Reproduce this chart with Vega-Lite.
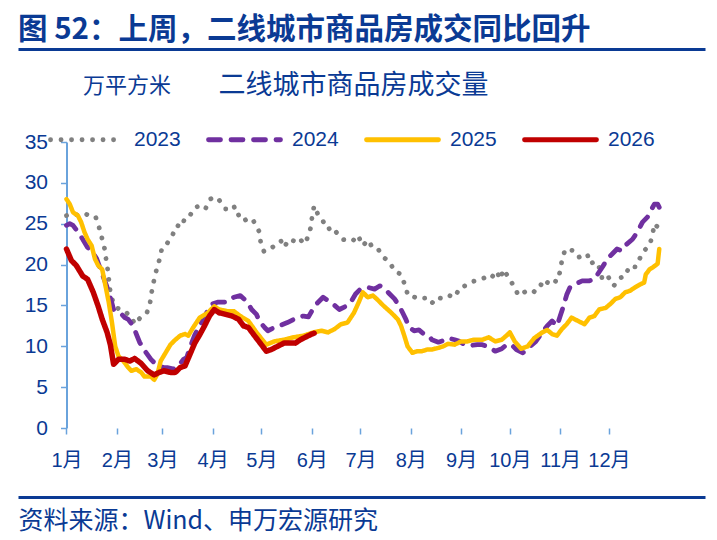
{
  "$schema": "https://vega.github.io/schema/vega-lite/v6.json",
  "width": 687,
  "height": 286,
  "autosize": {"type": "none"},
  "padding": {"left": 18, "top": 142, "right": 12, "bottom": 112},
  "background": "white",
  "title": {
    "text": "图 52：上周，二线城市商品房成交同比回升",
    "anchor": "start",
    "frame": "group",
    "offset": 4,
    "font": "Noto Sans CJK SC",
    "fontSize": 29.5,
    "fontWeight": "bold",
    "color": "#0a3a94"
  },
  "data": {
    "values": [
      {"year":"2023","day":0,"value":26.0},{"year":"2023","day":4,"value":26.2},{"year":"2023","day":8,"value":26.0},{"year":"2023","day":12,"value":26.2},{"year":"2023","day":15,"value":25.8},{"year":"2023","day":18,"value":25.8},{"year":"2023","day":20,"value":24.6},{"year":"2023","day":22,"value":23.1},{"year":"2023","day":23.5,"value":21.9},{"year":"2023","day":24.5,"value":20.5},{"year":"2023","day":25.5,"value":19.2},{"year":"2023","day":26.3,"value":17.8},{"year":"2023","day":27,"value":16.6},{"year":"2023","day":28.8,"value":15.3},{"year":"2023","day":31,"value":14.7},{"year":"2023","day":34,"value":14.4},{"year":"2023","day":36,"value":14.3},{"year":"2023","day":38,"value":13.9},{"year":"2023","day":40,"value":13.6},{"year":"2023","day":42,"value":12.7},{"year":"2023","day":44.5,"value":13.3},{"year":"2023","day":47,"value":13.8},{"year":"2023","day":49.5,"value":14.1},{"year":"2023","day":51.5,"value":15.4},{"year":"2023","day":52.6,"value":16.8},{"year":"2023","day":54,"value":18.2},{"year":"2023","day":55.7,"value":19.6},{"year":"2023","day":57.7,"value":20.9},{"year":"2023","day":58.8,"value":22.1},{"year":"2023","day":62,"value":22.6},{"year":"2023","day":65,"value":23.5},{"year":"2023","day":68,"value":24.8},{"year":"2023","day":71,"value":24.6},{"year":"2023","day":73,"value":25.8},{"year":"2023","day":76,"value":26.0},{"year":"2023","day":79,"value":27.0},{"year":"2023","day":82.5,"value":27.2},{"year":"2023","day":85.5,"value":26.8},{"year":"2023","day":88.5,"value":28.0},{"year":"2023","day":90.7,"value":28.3},{"year":"2023","day":94,"value":27.9},{"year":"2023","day":98,"value":26.8},{"year":"2023","day":100,"value":26.8},{"year":"2023","day":103,"value":27.2},{"year":"2023","day":105,"value":26.0},{"year":"2023","day":108,"value":26.2},{"year":"2023","day":111,"value":25.2},{"year":"2023","day":115,"value":25.4},{"year":"2023","day":118.5,"value":24.1},{"year":"2023","day":119.6,"value":22.7},{"year":"2023","day":121.6,"value":21.6},{"year":"2023","day":124.7,"value":21.8},{"year":"2023","day":128,"value":22.3},{"year":"2023","day":132,"value":22.9},{"year":"2023","day":134,"value":22.1},{"year":"2023","day":137,"value":23.1},{"year":"2023","day":140,"value":22.9},{"year":"2023","day":143,"value":23.3},{"year":"2023","day":146.4,"value":22.5},{"year":"2023","day":148.5,"value":23.3},{"year":"2023","day":150.5,"value":24.6},{"year":"2023","day":151.3,"value":26.0},{"year":"2023","day":152.5,"value":27.2},{"year":"2023","day":154.7,"value":26.2},{"year":"2023","day":157.7,"value":25.4},{"year":"2023","day":160.8,"value":24.3},{"year":"2023","day":164,"value":24.6},{"year":"2023","day":167,"value":23.7},{"year":"2023","day":170,"value":23.1},{"year":"2023","day":173,"value":22.9},{"year":"2023","day":176.3,"value":22.9},{"year":"2023","day":179.4,"value":23.6},{"year":"2023","day":182.5,"value":22.3},{"year":"2023","day":185.6,"value":23.0},{"year":"2023","day":188.7,"value":22.0},{"year":"2023","day":191.8,"value":21.9},{"year":"2023","day":195.8,"value":20.8},{"year":"2023","day":199,"value":20.3},{"year":"2023","day":202,"value":19.2},{"year":"2023","day":206,"value":18.8},{"year":"2023","day":208.2,"value":17.6},{"year":"2023","day":210.3,"value":16.2},{"year":"2023","day":212.4,"value":16.2},{"year":"2023","day":216.5,"value":15.8},{"year":"2023","day":220.6,"value":15.9},{"year":"2023","day":224.7,"value":15.2},{"year":"2023","day":228,"value":16.0},{"year":"2023","day":232,"value":15.8},{"year":"2023","day":236,"value":16.2},{"year":"2023","day":239,"value":16.0},{"year":"2023","day":242.3,"value":17.2},{"year":"2023","day":245.3,"value":17.4},{"year":"2023","day":249.5,"value":17.9},{"year":"2023","day":253.6,"value":18.1},{"year":"2023","day":257.7,"value":18.4},{"year":"2023","day":260.8,"value":18.2},{"year":"2023","day":265,"value":19.2},{"year":"2023","day":267,"value":18.2},{"year":"2023","day":269,"value":19.4},{"year":"2023","day":272,"value":18.5},{"year":"2023","day":275.3,"value":17.4},{"year":"2023","day":278.4,"value":16.2},{"year":"2023","day":283.5,"value":16.8},{"year":"2023","day":287.6,"value":16.6},{"year":"2023","day":291.7,"value":17.6},{"year":"2023","day":294.8,"value":17.2},{"year":"2023","day":297,"value":18.2},{"year":"2023","day":302,"value":17.9},{"year":"2023","day":304,"value":19.2},{"year":"2023","day":305.2,"value":20.7},{"year":"2023","day":307.2,"value":21.9},{"year":"2023","day":312.4,"value":21.7},{"year":"2023","day":315.5,"value":20.9},{"year":"2023","day":320.6,"value":21.3},{"year":"2023","day":322.7,"value":20.1},{"year":"2023","day":325.3,"value":20.4},{"year":"2023","day":328.9,"value":19.4},{"year":"2023","day":330,"value":18.0},{"year":"2023","day":334,"value":18.4},{"year":"2023","day":337,"value":17.4},{"year":"2023","day":341.2,"value":18.4},{"year":"2023","day":344.3,"value":18.6},{"year":"2023","day":346.4,"value":19.8},{"year":"2023","day":350.5,"value":19.7},{"year":"2023","day":352.6,"value":20.6},{"year":"2023","day":355.7,"value":21.7},{"year":"2023","day":358.8,"value":22.3},{"year":"2023","day":360.8,"value":23.5},{"year":"2023","day":361.9,"value":25.0},{"year":"2023","day":364,"value":24.6},

      {"year":"2024","day":0,"value":24.8},{"year":"2024","day":2,"value":25.0},{"year":"2024","day":4,"value":24.8},{"year":"2024","day":7,"value":24.0},{"year":"2024","day":10,"value":23.1},{"year":"2024","day":13,"value":22.1},{"year":"2024","day":15.5,"value":21.7},{"year":"2024","day":18.6,"value":20.7},{"year":"2024","day":21.7,"value":19.0},{"year":"2024","day":24.7,"value":17.4},{"year":"2024","day":27.8,"value":15.4},{"year":"2024","day":29,"value":14.5},{"year":"2024","day":31,"value":14.2},{"year":"2024","day":34,"value":13.9},{"year":"2024","day":36,"value":13.5},{"year":"2024","day":38,"value":13.3},{"year":"2024","day":41,"value":12.5},{"year":"2024","day":43,"value":11.5},{"year":"2024","day":45,"value":10.5},{"year":"2024","day":48,"value":9.5},{"year":"2024","day":52,"value":8.4},{"year":"2024","day":56,"value":7.6},{"year":"2024","day":60,"value":7.4},{"year":"2024","day":62,"value":7.4},{"year":"2024","day":66,"value":7.2},{"year":"2024","day":69,"value":7.6},{"year":"2024","day":72,"value":8.4},{"year":"2024","day":74,"value":8.6},{"year":"2024","day":76,"value":9.8},{"year":"2024","day":79,"value":11.4},{"year":"2024","day":82,"value":12.5},{"year":"2024","day":86,"value":14.0},{"year":"2024","day":88,"value":14.7},{"year":"2024","day":90,"value":15.2},{"year":"2024","day":93,"value":15.4},{"year":"2024","day":97,"value":15.4},{"year":"2024","day":100,"value":15.5},{"year":"2024","day":103,"value":16.0},{"year":"2024","day":107,"value":16.2},{"year":"2024","day":111,"value":15.5},{"year":"2024","day":114,"value":14.5},{"year":"2024","day":117,"value":13.9},{"year":"2024","day":119,"value":13.0},{"year":"2024","day":122,"value":12.3},{"year":"2024","day":124,"value":11.9},{"year":"2024","day":127,"value":12.2},{"year":"2024","day":131,"value":12.5},{"year":"2024","day":136,"value":12.9},{"year":"2024","day":140,"value":13.3},{"year":"2024","day":143,"value":13.6},{"year":"2024","day":146,"value":13.7},{"year":"2024","day":149,"value":13.6},{"year":"2024","day":151,"value":14.3},{"year":"2024","day":154,"value":15.2},{"year":"2024","day":158,"value":16.0},{"year":"2024","day":161,"value":15.6},{"year":"2024","day":164,"value":15.2},{"year":"2024","day":168,"value":14.5},{"year":"2024","day":172,"value":14.9},{"year":"2024","day":175,"value":15.4},{"year":"2024","day":178,"value":16.4},{"year":"2024","day":181,"value":17.0},{"year":"2024","day":185.6,"value":17.2},{"year":"2024","day":189.7,"value":17.0},{"year":"2024","day":193,"value":17.4},{"year":"2024","day":196,"value":17.0},{"year":"2024","day":199,"value":16.4},{"year":"2024","day":202,"value":15.8},{"year":"2024","day":205,"value":14.9},{"year":"2024","day":207,"value":14.1},{"year":"2024","day":209,"value":13.3},{"year":"2024","day":211,"value":12.3},{"year":"2024","day":214,"value":11.9},{"year":"2024","day":217,"value":12.0},{"year":"2024","day":220,"value":11.5},{"year":"2024","day":223,"value":11.3},{"year":"2024","day":225,"value":10.8},{"year":"2024","day":229,"value":10.5},{"year":"2024","day":232,"value":10.7},{"year":"2024","day":235,"value":11.0},{"year":"2024","day":239,"value":10.8},{"year":"2024","day":242,"value":10.6},{"year":"2024","day":245,"value":10.2},{"year":"2024","day":249,"value":10.1},{"year":"2024","day":253,"value":10.2},{"year":"2024","day":256,"value":10.2},{"year":"2024","day":260,"value":9.9},{"year":"2024","day":264,"value":9.4},{"year":"2024","day":268,"value":9.7},{"year":"2024","day":271,"value":10.2},{"year":"2024","day":274,"value":10.2},{"year":"2024","day":277,"value":9.6},{"year":"2024","day":281,"value":9.2},{"year":"2024","day":285,"value":9.9},{"year":"2024","day":289,"value":10.6},{"year":"2024","day":293,"value":11.7},{"year":"2024","day":296,"value":12.5},{"year":"2024","day":299,"value":13.1},{"year":"2024","day":302,"value":12.5},{"year":"2024","day":304,"value":13.7},{"year":"2024","day":306,"value":14.9},{"year":"2024","day":308,"value":16.3},{"year":"2024","day":310,"value":17.2},{"year":"2024","day":313,"value":17.6},{"year":"2024","day":317.5,"value":18.0},{"year":"2024","day":321.7,"value":18.0},{"year":"2024","day":325,"value":18.2},{"year":"2024","day":327,"value":18.8},{"year":"2024","day":330,"value":19.7},{"year":"2024","day":333,"value":20.7},{"year":"2024","day":336,"value":21.3},{"year":"2024","day":339,"value":21.9},{"year":"2024","day":342,"value":21.7},{"year":"2024","day":345,"value":22.5},{"year":"2024","day":348.5,"value":23.1},{"year":"2024","day":351.6,"value":24.0},{"year":"2024","day":354.7,"value":25.2},{"year":"2024","day":357.7,"value":25.8},{"year":"2024","day":359.8,"value":26.6},{"year":"2024","day":362,"value":27.4},{"year":"2024","day":364,"value":27.4},{"year":"2024","day":365,"value":27.0},

      {"year":"2025","day":0,"value":28.0},{"year":"2025","day":2,"value":27.4},{"year":"2025","day":4,"value":26.4},{"year":"2025","day":7,"value":26.0},{"year":"2025","day":9,"value":25.2},{"year":"2025","day":11,"value":24.0},{"year":"2025","day":13,"value":23.1},{"year":"2025","day":15.5,"value":22.3},{"year":"2025","day":17.5,"value":20.7},{"year":"2025","day":19.5,"value":19.9},{"year":"2025","day":22,"value":19.4},{"year":"2025","day":24,"value":17.4},{"year":"2025","day":26,"value":15.4},{"year":"2025","day":28,"value":12.9},{"year":"2025","day":30,"value":10.0},{"year":"2025","day":32,"value":8.8},{"year":"2025","day":35,"value":8.2},{"year":"2025","day":38,"value":7.4},{"year":"2025","day":40,"value":7.0},{"year":"2025","day":43,"value":7.2},{"year":"2025","day":46,"value":6.8},{"year":"2025","day":48,"value":6.3},{"year":"2025","day":52,"value":6.3},{"year":"2025","day":54,"value":5.9},{"year":"2025","day":56,"value":6.6},{"year":"2025","day":58,"value":8.2},{"year":"2025","day":61,"value":9.2},{"year":"2025","day":64,"value":10.2},{"year":"2025","day":67,"value":10.8},{"year":"2025","day":70,"value":11.3},{"year":"2025","day":73,"value":11.5},{"year":"2025","day":75,"value":11.3},{"year":"2025","day":78,"value":12.3},{"year":"2025","day":82,"value":13.5},{"year":"2025","day":87,"value":14.1},{"year":"2025","day":91,"value":14.9},{"year":"2025","day":94,"value":14.5},{"year":"2025","day":99,"value":14.3},{"year":"2025","day":103,"value":14.3},{"year":"2025","day":107,"value":13.7},{"year":"2025","day":112,"value":13.1},{"year":"2025","day":117,"value":11.7},{"year":"2025","day":123,"value":10.2},{"year":"2025","day":128,"value":10.6},{"year":"2025","day":134,"value":10.8},{"year":"2025","day":140,"value":11.1},{"year":"2025","day":146,"value":11.3},{"year":"2025","day":152,"value":11.7},{"year":"2025","day":157,"value":11.9},{"year":"2025","day":161,"value":11.7},{"year":"2025","day":165,"value":12.1},{"year":"2025","day":169,"value":12.7},{"year":"2025","day":173,"value":12.9},{"year":"2025","day":177,"value":14.1},{"year":"2025","day":180,"value":15.4},{"year":"2025","day":182.5,"value":16.6},{"year":"2025","day":185.5,"value":16.0},{"year":"2025","day":188.7,"value":16.2},{"year":"2025","day":191,"value":15.8},{"year":"2025","day":195,"value":15.0},{"year":"2025","day":200,"value":14.1},{"year":"2025","day":204,"value":13.3},{"year":"2025","day":206,"value":12.5},{"year":"2025","day":208,"value":11.3},{"year":"2025","day":210,"value":10.0},{"year":"2025","day":213,"value":9.2},{"year":"2025","day":216,"value":9.4},{"year":"2025","day":219,"value":9.4},{"year":"2025","day":222,"value":9.6},{"year":"2025","day":225,"value":9.6},{"year":"2025","day":229,"value":9.8},{"year":"2025","day":232,"value":10.0},{"year":"2025","day":235,"value":10.3},{"year":"2025","day":239,"value":10.2},{"year":"2025","day":243,"value":10.6},{"year":"2025","day":247,"value":10.6},{"year":"2025","day":251,"value":10.8},{"year":"2025","day":256,"value":10.8},{"year":"2025","day":260,"value":11.1},{"year":"2025","day":264,"value":10.6},{"year":"2025","day":268,"value":10.8},{"year":"2025","day":272,"value":11.5},{"year":"2025","day":273,"value":11.7},{"year":"2025","day":276,"value":10.6},{"year":"2025","day":280,"value":9.7},{"year":"2025","day":284,"value":10.0},{"year":"2025","day":288,"value":11.0},{"year":"2025","day":293,"value":11.7},{"year":"2025","day":296,"value":12.0},{"year":"2025","day":299,"value":11.5},{"year":"2025","day":302,"value":11.3},{"year":"2025","day":305,"value":12.1},{"year":"2025","day":308,"value":12.7},{"year":"2025","day":311,"value":13.5},{"year":"2025","day":315,"value":13.1},{"year":"2025","day":319,"value":12.7},{"year":"2025","day":322,"value":13.5},{"year":"2025","day":325,"value":13.7},{"year":"2025","day":328,"value":14.5},{"year":"2025","day":332,"value":14.7},{"year":"2025","day":335,"value":15.2},{"year":"2025","day":338,"value":15.8},{"year":"2025","day":341,"value":16.0},{"year":"2025","day":344,"value":16.6},{"year":"2025","day":347,"value":16.8},{"year":"2025","day":350,"value":17.2},{"year":"2025","day":353.5,"value":17.6},{"year":"2025","day":355.7,"value":17.8},{"year":"2025","day":356.7,"value":18.8},{"year":"2025","day":359,"value":19.4},{"year":"2025","day":362,"value":19.8},{"year":"2025","day":364,"value":20.1},{"year":"2025","day":365,"value":21.9},

      {"year":"2026","day":0,"value":21.9},{"year":"2026","day":3,"value":20.5},{"year":"2026","day":6,"value":19.9},{"year":"2026","day":10,"value":18.6},{"year":"2026","day":13,"value":18.2},{"year":"2026","day":16.5,"value":16.6},{"year":"2026","day":19.5,"value":14.9},{"year":"2026","day":22,"value":13.3},{"year":"2026","day":25,"value":11.7},{"year":"2026","day":27,"value":10.2},{"year":"2026","day":29,"value":7.8},{"year":"2026","day":32,"value":8.4},{"year":"2026","day":36,"value":8.4},{"year":"2026","day":39,"value":8.2},{"year":"2026","day":42,"value":8.5},{"year":"2026","day":46,"value":7.9},{"year":"2026","day":50,"value":7.0},{"year":"2026","day":54,"value":6.5},{"year":"2026","day":57,"value":6.8},{"year":"2026","day":60,"value":7.0},{"year":"2026","day":64,"value":6.8},{"year":"2026","day":67,"value":6.8},{"year":"2026","day":70,"value":7.4},{"year":"2026","day":73,"value":7.6},{"year":"2026","day":76,"value":9.0},{"year":"2026","day":79,"value":10.4},{"year":"2026","day":82,"value":11.4},{"year":"2026","day":85,"value":12.5},{"year":"2026","day":88,"value":13.7},{"year":"2026","day":91,"value":14.5},{"year":"2026","day":94,"value":14.1},{"year":"2026","day":98,"value":13.9},{"year":"2026","day":102,"value":13.7},{"year":"2026","day":106,"value":13.3},{"year":"2026","day":109,"value":12.5},{"year":"2026","day":112,"value":12.3},{"year":"2026","day":115,"value":11.5},{"year":"2026","day":120,"value":10.2},{"year":"2026","day":123,"value":9.4},{"year":"2026","day":126,"value":9.6},{"year":"2026","day":130,"value":10.0},{"year":"2026","day":134,"value":10.4},{"year":"2026","day":138,"value":10.4},{"year":"2026","day":141,"value":10.4},{"year":"2026","day":144,"value":10.8},{"year":"2026","day":147,"value":11.1},{"year":"2026","day":151,"value":11.5},{"year":"2026","day":152.5,"value":11.6}
    ]
  },
  "encoding": {
    "y": {
      "field": "value", "type": "quantitative",
      "scale": {"domain": [0, 35], "nice": false},
      "axis": {
        "orient": "left", "offset": -48.5,
        "values": [0, 5, 10, 15, 20, 25, 30, 35],
        "domain": true, "domainColor": "#6aa3dc", "domainWidth": 2,
        "ticks": true, "tickSize": 6, "tickWidth": 1.5, "tickColor": "#6aa3dc",
        "grid": false,
        "labelFont": "Liberation Sans", "labelFontSize": 21, "labelColor": "#0a3a94", "labelPadding": 13,
        "title": "万平方米", "titleAngle": 0, "titleX": 60, "titleY": -57,
        "titleAlign": "center", "titleBaseline": "middle",
        "titleFont": "Noto Sans CJK SC", "titleFontSize": 22, "titleFontWeight": "normal", "titleColor": "#0a3a94"
      }
    }
  },
  "layer": [
    {
      "data": {"values": [{}]},
      "mark": {"type": "rule", "color": "#6aa3dc", "strokeWidth": 2},
      "encoding": {
        "x": {
          "datum": 0, "type": "quantitative",
          "scale": {"domain": [0, 363.3], "nice": false, "zero": false, "padding": 48.5},
          "axis": {
            "orient": "top", "offset": 93,
            "domain": true, "domainColor": "#0a3a94", "domainWidth": 3,
            "ticks": false, "labels": false, "grid": false,
            "title": "二线城市商品房成交量",
            "titleX": 335, "titleY": 36, "titleAlign": "center", "titleBaseline": "middle",
            "titleFont": "Noto Sans CJK SC", "titleFontSize": 27, "titleFontWeight": "normal", "titleColor": "#0a3a94"
          }
        },
        "x2": {"datum": 363.3},
        "y": {
          "datum": 0, "type": "quantitative",
          "scale": {"domain": [0, 35], "nice": false},
          "axis": {
            "orient": "left", "offset": -48.5,
            "values": [0, 5, 10, 15, 20, 25, 30, 35],
            "domain": true, "domainColor": "#6aa3dc", "domainWidth": 2,
            "ticks": true, "tickSize": 6, "tickWidth": 1.5, "tickColor": "#6aa3dc",
            "grid": false,
            "labelFont": "Liberation Sans", "labelFontSize": 21, "labelColor": "#0a3a94", "labelPadding": 13,
            "title": "万平方米", "titleAngle": 0, "titleX": 60, "titleY": -57,
            "titleAlign": "center", "titleBaseline": "middle",
            "titleFont": "Noto Sans CJK SC", "titleFontSize": 22, "titleFontWeight": "normal", "titleColor": "#0a3a94"
          }
        }
      }
    },
    {
      "transform": [{"filter": "datum.year === '2023'"}],
      "mark": {"type": "line", "strokeWidth": 4.8, "strokeCap": "round", "strokeJoin": "round"},
      "encoding": {
        "x": {
          "field": "day", "type": "quantitative",
          "scale": {"domain": [0, 363.3], "nice": false, "zero": false, "padding": 48.5},
          "axis": {
            "orient": "bottom", "domain": false, "grid": false,
            "values": [0, 31, 59, 90, 120, 151, 181, 212, 243, 273, 304, 334],
            "labelExpr": "['1月','2月','3月','4月','5月','6月','7月','8月','9月','10月','11月','12月'][indexof([0,31,59,90,120,151,181,212,243,273,304,334], datum.value)]",
            "ticks": true, "tickSize": 6, "tickWidth": 1.5, "tickColor": "#6aa3dc",
            "labelFont": "Liberation Sans, Noto Sans CJK SC", "labelFontSize": 20, "labelColor": "#0a3a94",
            "labelPadding": 16, "labelOverlap": false, "labelFlush": false, "labelBound": false,
            "title": null
          }
        },
        "color": {
          "field": "year", "type": "nominal",
          "scale": {"domain": ["2023", "2024", "2025", "2026"], "range": ["#808080", "#7030a0", "#ffc000", "#c00000"]},
          "legend": {
            "orient": "none", "legendX": 30, "legendY": -41, "direction": "horizontal", "title": null,
            "symbolType": "stroke", "symbolSize": 5184, "symbolStrokeWidth": 4.8,
            "labelFont": "Liberation Sans", "labelFontSize": 21, "labelColor": "#0a3a94",
            "labelOffset": 9, "columnPadding": 17, "padding": 0,
            "encoding": {"symbols": {"strokeCap": {"value": "round"}}}
          }
        },
        "strokeDash": {
          "field": "year", "type": "nominal",
          "scale": {"domain": ["2023", "2024", "2025", "2026"], "range": [[0.1, 10.4], [12, 10.5], [1, 0], [1, 0]]},
          "legend": {
            "orient": "none", "legendX": 30, "legendY": -41, "direction": "horizontal", "title": null,
            "symbolType": "stroke", "symbolSize": 5184, "symbolStrokeWidth": 4.8,
            "labelFont": "Liberation Sans", "labelFontSize": 21, "labelColor": "#0a3a94",
            "labelOffset": 9, "columnPadding": 17, "padding": 0,
            "encoding": {"symbols": {"strokeCap": {"value": "round"}}}
          }
        }
      }
    },
    {
      "transform": [{"filter": "datum.year === '2024'"}],
      "mark": {"type": "line", "strokeWidth": 4.8, "strokeCap": "round", "strokeJoin": "round"},
      "encoding": {
        "x": {"field": "day", "type": "quantitative", "axis": null},
        "color": {"field": "year", "type": "nominal", "scale": {"domain": ["2023", "2024", "2025", "2026"], "range": ["#808080", "#7030a0", "#ffc000", "#c00000"]}},
        "strokeDash": {"field": "year", "type": "nominal", "scale": {"domain": ["2023", "2024", "2025", "2026"], "range": [[0.1, 10.4], [12, 10.5], [1, 0], [1, 0]]}}
      }
    },
    {
      "transform": [{"filter": "datum.year === '2025'"}],
      "mark": {"type": "line", "strokeWidth": 4.5, "strokeCap": "round", "strokeJoin": "round"},
      "encoding": {
        "x": {"field": "day", "type": "quantitative", "axis": null},
        "color": {"field": "year", "type": "nominal", "scale": {"domain": ["2023", "2024", "2025", "2026"], "range": ["#808080", "#7030a0", "#ffc000", "#c00000"]}},
        "strokeDash": {"field": "year", "type": "nominal", "scale": {"domain": ["2023", "2024", "2025", "2026"], "range": [[0.1, 10.4], [12, 10.5], [1, 0], [1, 0]]}}
      }
    },
    {
      "transform": [{"filter": "datum.year === '2026'"}],
      "mark": {"type": "line", "strokeWidth": 5.5, "strokeCap": "round", "strokeJoin": "round"},
      "encoding": {
        "x": {
          "field": "day", "type": "quantitative",
          "axis": {
            "orient": "bottom", "offset": 69,
            "domain": true, "domainColor": "#0a3a94", "domainWidth": 3,
            "ticks": false, "labels": false, "grid": false,
            "title": "资料来源：Wind、申万宏源研究",
            "titleX": 0, "titleY": 23, "titleAlign": "left", "titleAnchor": "start", "titleBaseline": "middle",
            "titleFont": "Noto Sans CJK SC", "titleFontSize": 25, "titleFontWeight": "normal", "titleColor": "#0a3a94"
          }
        },
        "color": {"field": "year", "type": "nominal", "scale": {"domain": ["2023", "2024", "2025", "2026"], "range": ["#808080", "#7030a0", "#ffc000", "#c00000"]}},
        "strokeDash": {"field": "year", "type": "nominal", "scale": {"domain": ["2023", "2024", "2025", "2026"], "range": [[0.1, 10.4], [12, 10.5], [1, 0], [1, 0]]}}
      }
    }
  ],
  "resolve": {"axis": {"x": "independent"}},
  "config": {
    "view": {"stroke": null},
    "axis": {"grid": false}
  }
}
